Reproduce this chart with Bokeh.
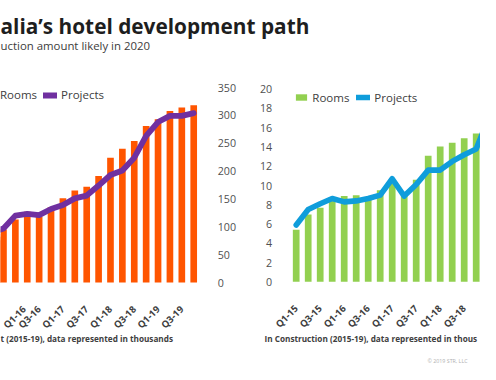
import math
from bokeh.plotting import figure
from bokeh.layouts import column, row
from bokeh.models import Range1d, FixedTicker, Label, Legend, LegendItem
from bokeh.embed import file_html
from bokeh.resources import INLINE

# ---------------- data ----------------
quarters = ["Q1-15", "Q2-15", "Q3-15", "Q4-15", "Q1-16", "Q2-16", "Q3-16", "Q4-16",
            "Q1-17", "Q2-17", "Q3-17", "Q4-17", "Q1-18", "Q2-18", "Q3-18", "Q4-18",
            "Q1-19", "Q2-19", "Q3-19", "Q4-19"]
tick_idx = [0, 2, 4, 6, 8, 10, 12, 14, 16, 18]

pipeline_rooms = [76, 82, 88, 95, 113, 127, 118, 135, 151, 165, 172, 191,
                  224, 240, 254, 281, 293, 308, 314, 318]
pipeline_projects = [80, 85, 90, 97, 120, 123, 121, 132, 139, 151, 156, 174,
                     193, 201, 224, 263, 288, 299, 299, 304]

construction_rooms = [5.4, 7.0, 7.7, 8.6, 8.9, 9.0, 8.7, 9.5, 10.2, 9.2, 10.6,
                      13.1, 14.05, 14.45, 14.9, 15.4, 16.0]
construction_projects = [5.9, 7.5, 8.1, 8.65, 8.3, 8.4, 8.65, 9.0, 10.7, 8.9, 10.1,
                         11.6, 11.6, 12.5, 13.2, 13.8, 16.9]

left_ticks = [0, 50, 100, 150, 200, 250, 300, 350]
right_ticks = [0, 2, 4, 6, 8, 10, 12, 14, 16, 18, 20]

title_text = "alia\u2019s hotel development path"
subtitle_text = "uction amount likely in 2020"
foot_left = "t (2015-19), data represented in thousands"
foot_right = "In Construction (2015-19), data represented in thous"
copyright_text = "\u00a9 2019 STR, LLC"

# ---------------- styles ----------------
FONT = "Open Sans"
ORANGE = "#FF5500"
PURPLE = "#7030A0"
GREEN = "#92D050"
BLUE = "#0F9DDB"
TXT = "#404040"

W = 480
HEAD_H = 56
CH_H = 308

# ---------------- header ----------------
head = figure(width=W, height=HEAD_H, x_range=Range1d(0, W), y_range=Range1d(HEAD_H, 0),
              x_axis_location=None, y_axis_location=None, toolbar_location=None,
              output_backend="svg", min_border=0, outline_line_color=None)
head.grid.visible = False
head.add_layout(Label(x=0, y=25, text=title_text, text_font=FONT, text_font_size="20.8px",
                      text_font_style="bold", text_color="#1e1e1e", text_baseline="alphabetic"))
head.add_layout(Label(x=0, y=45, text=subtitle_text, text_font=FONT, text_font_size="11.4px",
                      text_color="#3c3c3c", text_baseline="alphabetic"))


class Frame:
    """Pixel <-> data mapping for a chart whose plot frame fills the whole figure."""

    def __init__(self, width, x_at, x_px, x_step, zero_px, top_val, top_px):
        self.w = width
        self.sx = x_step                       # px per category
        self.x0 = x_at - x_px / x_step         # data x at left edge
        self.sy = (zero_px - top_px) / top_val # px per value unit
        self.y_top = top_val + top_px / self.sy
        self.y_bot = -(CH_H - zero_px) / self.sy

    def x_range(self):
        return Range1d(self.x0, self.x0 + self.w / self.sx)

    def y_range(self):
        return Range1d(self.y_bot, self.y_top)

    def data(self, px, py):
        return self.x0 + px / self.sx, self.y_top - py / self.sy


def style_xaxis(p):
    ax = p.xaxis[0]
    ax.fixed_location = 0
    ax.ticker = FixedTicker(ticks=tick_idx)
    ax.major_label_overrides = {i: quarters[i] for i in tick_idx}
    ax.major_label_orientation = math.pi / 4
    ax.axis_line_color = None
    ax.major_tick_line_color = None
    ax.minor_tick_line_color = None
    ax.major_label_standoff = 19
    ax.major_label_text_font = FONT
    ax.major_label_text_font_size = "9.5px"
    ax.major_label_text_font_style = "bold"
    ax.major_label_text_color = TXT


def style_yaxis(ax, ticks, loc):
    ax.fixed_location = loc
    ax.ticker = FixedTicker(ticks=ticks)
    ax.axis_line_color = None
    ax.major_tick_line_color = None
    ax.minor_tick_line_color = None
    ax.major_label_standoff = 12
    ax.major_label_text_font = FONT
    ax.major_label_text_font_size = "10.7px"
    ax.major_label_text_color = "#505050"


def make_legend(items, x, center_from_top, spacing):
    # row height fixed by label_height (20 px); location = bottom-left of legend box
    return Legend(items=items, location=(x, CH_H - center_from_top - 10),
                  orientation="horizontal",
                  glyph_width=14, glyph_height=8, label_standoff=4, spacing=spacing,
                  padding=0, margin=0, label_height=20,
                  border_line_color=None, background_fill_alpha=0,
                  label_text_font=FONT, label_text_font_size="11.5px", label_text_color=TXT)


def note(fr, px, py, text, size, color, style="normal"):
    x, y = fr.data(px, py)
    return Label(x=x, y=y, text=text, text_font=FONT, text_font_size=size,
                 text_font_style=style, text_color=color, text_baseline="middle")


def chart(fr, y_loc):
    p = figure(width=fr.w, height=CH_H, x_range=fr.x_range(), y_range=fr.y_range(),
               y_axis_location=y_loc, toolbar_location=None, output_backend="svg",
               min_border=0, outline_line_color=None)
    p.grid.visible = False
    return p


# ---------------- left chart (pipeline) ----------------
fL = Frame(width=248, x_at=2.75, x_px=0, x_step=11.89, zero_px=226, top_val=350, top_px=31)
pL = chart(fL, "right")
style_xaxis(pL)
style_yaxis(pL.yaxis[0], left_ticks, 19.5)

xs_l = list(range(len(quarters)))
bars_l = pL.vbar(x=xs_l, top=pipeline_rooms, width=0.56, fill_color=ORANGE, line_color=None)
line_l = pL.line(x=xs_l, y=pipeline_projects, line_color=PURPLE, line_width=5.8,
                 line_join="round", line_cap="round")
pL.add_layout(make_legend([LegendItem(label="Rooms", renderers=[bars_l]),
                           LegendItem(label="Projects", renderers=[line_l])],
                          -18, 38.5, 6))
pL.add_layout(note(fL, 0, 281.7, foot_left, "8.2px", TXT, "bold"))

# ---------------- right chart (in construction) ----------------
fR = Frame(width=232, x_at=0, x_px=47.7, x_step=12.0, zero_px=225.3, top_val=20, top_px=32.7)
pR = chart(fR, "left")
style_xaxis(pR)
style_yaxis(pR.yaxis[0], right_ticks, -0.5)

xs_rb = list(range(len(construction_rooms)))
xs_rl = list(range(len(construction_projects)))
bars_r = pR.vbar(x=xs_rb, top=construction_rooms, width=0.56, fill_color=GREEN, line_color=None)
line_r = pR.line(x=xs_rl, y=construction_projects, line_color=BLUE, line_width=5.6,
                 line_join="round", line_cap="round")
pR.add_layout(make_legend([LegendItem(label="Rooms", renderers=[bars_r]),
                           LegendItem(label="Projects", renderers=[line_r])],
                          46.3, 41.3, 7))
pR.add_layout(note(fR, 16, 281.7, foot_right, "8.2px", TXT, "bold"))
pR.add_layout(note(fR, 179, 304.0, copyright_text, "5.3px", "#b0b0b0"))

layout = column(head, row(pL, pR))
open("out.html", "w").write(file_html(layout, INLINE))
